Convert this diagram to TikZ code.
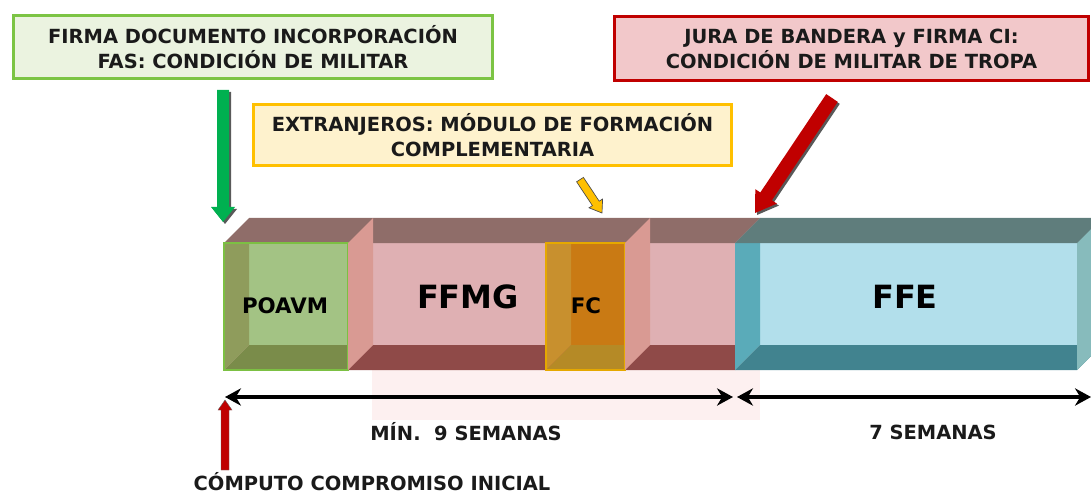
\documentclass[tikz,border=0pt]{standalone}
\usepackage{fontspec}
\setmainfont{DejaVu Sans}
\usetikzlibrary{arrows.meta}
\definecolor{gfill}{HTML}{EBF3E0}
\definecolor{gline}{HTML}{7CC444}
\definecolor{yfill}{HTML}{FEF2CD}
\definecolor{yline}{HTML}{FFC000}
\definecolor{rfill}{HTML}{F2C8CA}
\definecolor{rline}{HTML}{C00000}
\definecolor{mtop}{HTML}{8F6D69}
\definecolor{mback}{HTML}{DFB0B3}
\definecolor{mbot}{HTML}{8F4A48}
\definecolor{msal}{HTML}{D99A93}
\definecolor{faint}{HTML}{FDF0F0}
\definecolor{pback}{HTML}{A3C384}
\definecolor{pleft}{HTML}{8F9C5C}
\definecolor{pbot}{HTML}{7A8C4A}
\definecolor{pline}{HTML}{7CC043}
\definecolor{cback}{HTML}{C97A14}
\definecolor{cleft}{HTML}{C8902E}
\definecolor{cbot}{HTML}{B58A26}
\definecolor{cline}{HTML}{E5A800}
\definecolor{etop}{HTML}{5F7D7C}
\definecolor{eback}{HTML}{B2DFEB}
\definecolor{eleft}{HTML}{5AABB9}
\definecolor{ebot}{HTML}{41838F}
\definecolor{eright}{HTML}{87BBBC}
\definecolor{agreen}{HTML}{00B050}
\definecolor{txt}{HTML}{1A1A1A}
\tikzset{
  infobox/.style={draw, line width=2.25pt, align=center, inner sep=0pt, text=txt,
    font=\fontsize{14.6}{18.75}\selectfont\bfseries},
  cubelabel/.style={inner sep=0pt, text=black, font=\bfseries},
  plain/.style={inner sep=0pt, text=txt, font=\fontsize{14.6}{16}\selectfont\bfseries},
  arrshadow/.style={fill=black!65, shift={(2,2)}},
  span/.style={line width=3pt, black, {Stealth[length=12pt,width=13pt]}-{Stealth[length=12pt,width=13pt]}}
}
\begin{document}
\begin{tikzpicture}[x=0.75pt,y=-0.75pt]
\useasboundingbox (0,0) rectangle (1091,495);

% info boxes
\node[infobox, fill=gfill, draw=gline, minimum width=359pt, minimum height=47.5pt] (firma) at (253,47)
  {FIRMA DOCUMENTO INCORPORACIÓN\\FAS: CONDICIÓN DE MILITAR};
\node[infobox, fill=yfill, draw=yline, minimum width=358pt, minimum height=46pt] (extr) at (492.5,135)
  {EXTRANJEROS: MÓDULO DE FORMACIÓN\\COMPLEMENTARIA};
\node[infobox, fill=rfill, draw=rline, minimum width=355pt, minimum height=48pt] (jura) at (851.5,48.5)
  {JURA DE BANDERA y FIRMA CI:\\CONDICIÓN DE MILITAR DE TROPA};

% faint reflection
\fill[faint] (372,370) rectangle (760,420);

% FFMG bar
\fill[mback] (249,218) rectangle (760,345);
\fill[mbot] (224,370) -- (249,345) -- (760,345) -- (735,370) -- cycle;
\fill[mtop] (224,243) -- (249,218) -- (760,218) -- (735,243) -- cycle;

% POAVM cube
\fill[pback] (249,243) rectangle (348,345);
\fill[pbot] (224,370) -- (249,345) -- (348,345) -- (348,370) -- cycle;
\fill[pleft] (224,243) -- (249,243) -- (249,345) -- (224,370) -- cycle;
\draw[pline, line width=1.5pt] (224,243) rectangle (348,370);
\fill[msal] (348,243) -- (373,218) -- (373,345) -- (348,370) -- cycle;

% FC cube
\fill[cback] (571,243) rectangle (625,345);
\fill[cbot] (546,370) -- (571,345) -- (625,345) -- (625,370) -- cycle;
\fill[cleft] (546,243) -- (571,243) -- (571,345) -- (546,370) -- cycle;
\draw[cline, line width=1.5pt] (546,243) rectangle (625,370);
\fill[msal] (625,243) -- (650,218) -- (650,345) -- (625,370) -- cycle;

% FFE cube
\fill[eback] (760,218) rectangle (1102,345);
\fill[ebot] (735,370) -- (760,345) -- (1102,345) -- (1077,370) -- cycle;
\fill[eleft] (735,243) -- (760,243) -- (760,345) -- (735,370) -- cycle;
\fill[eright] (1077,243) -- (1102,218) -- (1102,345) -- (1077,370) -- cycle;
\fill[etop] (735,243) -- (760,218) -- (1102,218) -- (1077,243) -- cycle;

% cube labels
\node[cubelabel, font=\fontsize{16}{16}\selectfont\bfseries] (poavm) at (285,306) {POAVM};
\node[cubelabel, font=\fontsize{24}{24}\selectfont\bfseries] (ffmg) at (468,297) {FFMG};
\node[cubelabel, font=\fontsize{16}{16}\selectfont\bfseries] (fc) at (586,306) {FC};
\node[cubelabel, font=\fontsize{24}{24}\selectfont\bfseries] (ffe) at (905,297) {FFE};

% green arrow
\fill[arrshadow] (217,90) -- (229,90) -- (229,207) -- (235,207) -- (223,222) -- (211,207) -- (217,207) -- cycle;
\fill[agreen] (217,90) -- (229,90) -- (229,207) -- (235,207) -- (223,222) -- (211,207) -- (217,207) -- cycle;

% red diagonal arrow
\fill[arrshadow] (755,213) -- (776.9,203.6) -- (771.9,200.3) -- (837.8,101.9) -- (826.2,94.1) -- (760.3,192.5) -- (755.3,189.2) -- cycle;
\fill[rline] (755,213) -- (776.9,203.6) -- (771.9,200.3) -- (837.8,101.9) -- (826.2,94.1) -- (760.3,192.5) -- (755.3,189.2) -- cycle;

% yellow arrow
\filldraw[fill=yline, draw=black!70, line width=0.5pt] (602,213) -- (602.6,199.0) -- (599.2,201.2) -- (583.4,177.4) -- (576.6,181.8) -- (592.4,205.6) -- (589.0,207.8) -- cycle;

% red up arrow
\filldraw[fill=rline, draw=black!60, line width=0.3pt] (221,470) -- (229,470) -- (229,410) -- (232,410) -- (225,400) -- (218,410) -- (221,410) -- cycle;

% span arrows
\coordinate (s1) at (225,397);
\coordinate (s2) at (733,397);
\coordinate (s3) at (737,397);
\coordinate (s4) at (1091,397);
\draw[span] (s1) -- (s2);
\draw[span] (s3) -- (s4);

% bottom texts
\node[plain] (min9) at (466,432) {MÍN.\ \ 9 SEMANAS};
\node[plain] (sem7) at (933,432) {7 SEMANAS};
\node[plain, anchor=base] (comp) at (372,490) {CÓMPUTO COMPROMISO INICIAL};
\end{tikzpicture}
\end{document}
